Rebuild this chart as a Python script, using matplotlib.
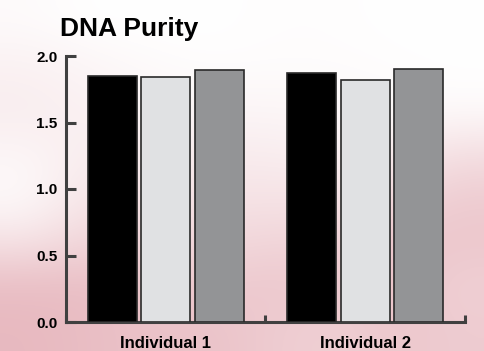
import numpy as np
import matplotlib
matplotlib.use("Agg")
import matplotlib.pyplot as plt
from matplotlib.colors import to_rgb

plt.rcParams['font.family'] = ['Liberation Sans', 'DejaVu Sans']
plt.rcParams['font.weight'] = 'bold'

# data
groups = ['Individual 1', 'Individual 2']
series_a = [1.85, 1.87]   # black bars
series_b = [1.84, 1.82]   # light grey bars
series_c = [1.895, 1.90]  # dark grey bars
yticks = [0.0, 0.5, 1.0, 1.5, 2.0]

bar_colors = ['#000000', '#e0e1e3', '#939496']
axis_color = '#404040'

fig = plt.figure(figsize=(4.85, 3.51), dpi=100)

# soft pink photo-like backdrop
bg_ax = fig.add_axes([0, 0, 1, 1], zorder=-10)
pink = np.array([
    [0.05, 0.00, 0.00, 0.00, 0.02, 0.02, 0.00, 0.00],
    [0.15, 0.10, 0.05, 0.02, 0.03, 0.03, 0.02, 0.00],
    [0.20, 0.15, 0.10, 0.10, 0.10, 0.08, 0.05, 0.05],
    [0.10, 0.20, 0.20, 0.20, 0.20, 0.15, 0.20, 0.35],
    [0.05, 0.30, 0.30, 0.30, 0.30, 0.30, 0.40, 0.55],
    [0.30, 0.45, 0.45, 0.40, 0.45, 0.45, 0.60, 0.60],
    [0.70, 0.70, 0.60, 0.55, 0.60, 0.55, 0.65, 0.50],
    [0.75, 0.70, 0.65, 0.65, 0.55, 0.50, 0.60, 0.55],
])
white = np.array([1.0, 1.0, 1.0])
rose = np.array(to_rgb('#e0a2ab'))
img = white[None, None, :] * (1 - pink[..., None]) + rose[None, None, :] * pink[..., None]
bg_ax.imshow(np.clip(img, 0, 1), aspect='auto', interpolation='bicubic',
             extent=[0, 1, 0, 1])
bg_ax.axis('off')

ax = fig.add_axes([66 / 485, 29 / 351, 399 / 485, 266 / 351])
ax.patch.set_alpha(0)

x = np.arange(len(groups))
offset = 0.2675
width = 0.245
for i, vals in enumerate([series_a, series_b, series_c]):
    ax.bar(x + (i - 1) * offset, vals, width=width, color=bar_colors[i],
           edgecolor='#2a2a2a', linewidth=1.2, zorder=3)

ax.set_xlim(-0.5, 1.5)
ax.set_ylim(0, 2.0)

for side in ['top', 'right']:
    ax.spines[side].set_visible(False)
for side in ['left', 'bottom']:
    ax.spines[side].set_color(axis_color)
    ax.spines[side].set_linewidth(2.2)
    ax.spines[side].set_capstyle('projecting')

ax.set_yticks(yticks)
ax.set_yticklabels([f'{v:.1f}' for v in yticks], fontsize=11, fontweight='bold')
ax.tick_params(axis='y', direction='in', length=7.2, width=2.2,
               color=axis_color, pad=6)

ax.set_xticks(x)
ax.set_xticklabels(groups, fontsize=12, fontweight='bold')
ax.tick_params(axis='x', which='major', length=0, pad=10)
ax.set_xticks([-0.5, 0.5, 1.5], minor=True)
ax.tick_params(axis='x', which='minor', direction='in', length=5, width=2.2,
               color=axis_color)

fig.text(60 / 485, 0.897, 'DNA Purity', fontsize=19, fontweight='bold',
         ha='left', va='baseline')

fig.savefig('out.png', dpi=100)
